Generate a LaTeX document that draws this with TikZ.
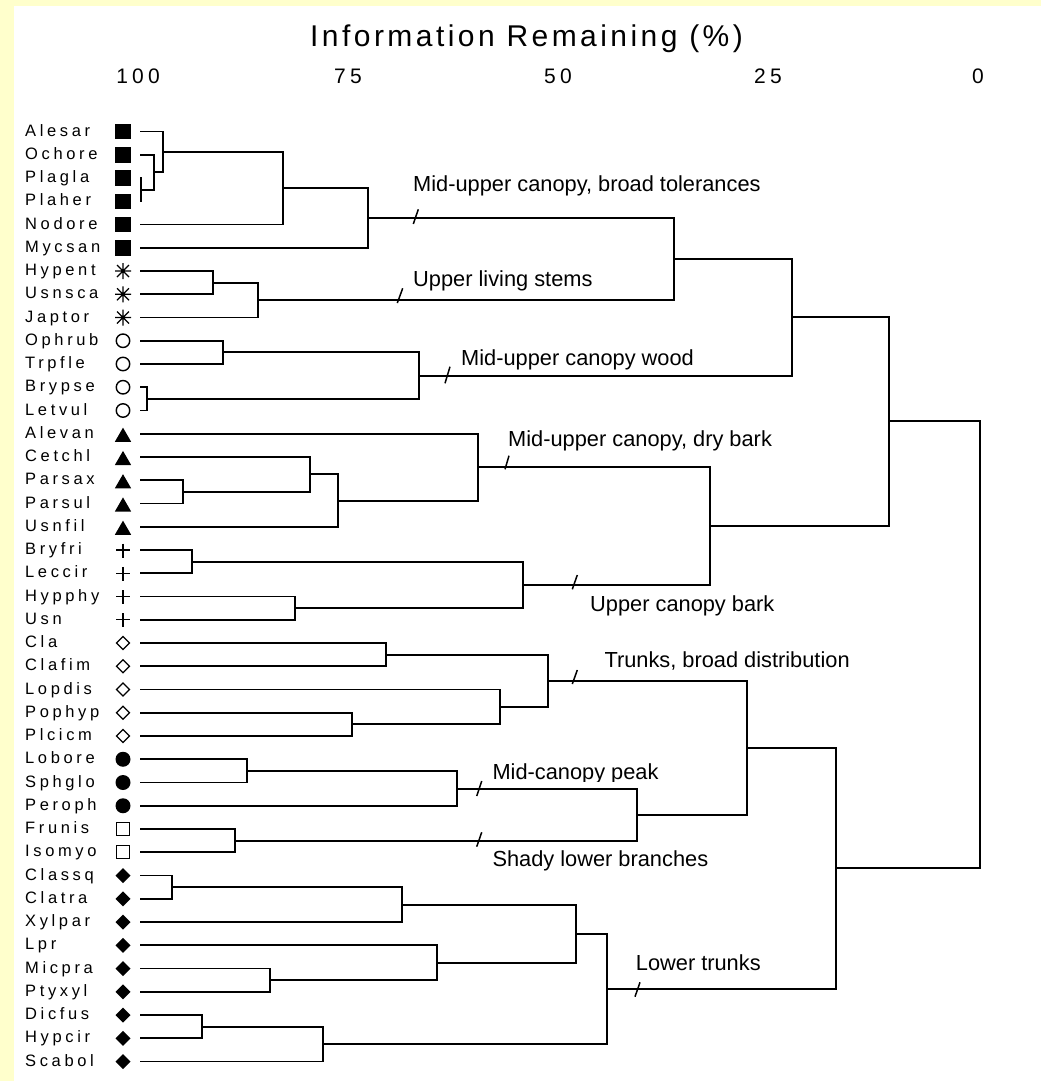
\documentclass[tikz,border=0pt]{standalone}
\usepackage{fontspec}
\setmainfont{Liberation Sans}
\newfontfamily\leaffont[LetterSpace=22]{Liberation Sans}
\newfontfamily\titlefont[LetterSpace=11.5]{Liberation Sans}
\newfontfamily\numfont[LetterSpace=20]{Liberation Sans}
\usetikzlibrary{shapes.geometric}
\definecolor{bgyellow}{RGB}{255,255,204}
\begin{document}
\begin{tikzpicture}[x=1pt,y=-1pt,
  tree/.style={line width=1.9pt, line join=miter},
  slash/.style={line width=1.5pt},
  note/.style={anchor=base west, inner sep=0pt, font=\fontsize{21.8}{26}\selectfont},
  leaflab/.style={anchor=base west, inner sep=0pt, font=\leaffont\fontsize{16.5}{20}\selectfont},
  numlab/.style={anchor=base, inner sep=0pt, font=\numfont\fontsize{21}{25}\selectfont},
  mkbase/.style={inner sep=0pt, outer sep=0pt},
  sqf/.style={mkbase, rectangle, fill=black, minimum size=15.5pt},
  sqo/.style={mkbase, rectangle, draw=black, line width=1.4pt, minimum size=13pt},
  circo/.style={mkbase, circle, draw=black, line width=1.4pt, minimum size=13.5pt},
  circf/.style={mkbase, circle, fill=black, minimum size=15pt},
  trif/.style={mkbase, regular polygon, regular polygon sides=3, fill=black, minimum size=19pt, yshift=-3.4pt},
  diao/.style={mkbase, diamond, draw=black, line width=1.3pt, minimum width=13pt, minimum height=13pt},
  diaf/.style={mkbase, diamond, fill=black, minimum width=15pt, minimum height=15pt},
  plusm/.style={mkbase, minimum size=16pt, path picture={
    \draw[line width=1.4pt]
      ([xshift=-7pt]path picture bounding box.center) -- ([xshift=7pt]path picture bounding box.center)
      ([yshift=6.5pt]path picture bounding box.center) -- ([yshift=-7.5pt]path picture bounding box.center);}},
  astm/.style={mkbase, minimum size=18pt, path picture={
    \draw[line width=1.4pt]
      ([xshift=-8pt]path picture bounding box.center) -- ([xshift=8pt]path picture bounding box.center)
      ([yshift=8pt]path picture bounding box.center) -- ([yshift=-8pt]path picture bounding box.center)
      ([shift={(-6pt,6pt)}]path picture bounding box.center) -- ([shift={(6pt,-6pt)}]path picture bounding box.center)
      ([shift={(-6pt,-6pt)}]path picture bounding box.center) -- ([shift={(6pt,6pt)}]path picture bounding box.center);}}
]
\useasboundingbox (0,0) rectangle (1041,1081);
\fill[bgyellow] (0,0) rectangle (1041,1081);
\fill[white] (14,6) rectangle (1041,1081);

% title and axis
\node[anchor=base west, inner sep=0pt, font=\titlefont\fontsize{30}{36}\selectfont] (title) at (310,46.7) {Information Remaining (\%)};
\node[numlab] (n100) at (138,83.3) {100};
\node[numlab] (n75) at (348,83.3) {75};
\node[numlab] (n50) at (558,83.3) {50};
\node[numlab] (n25) at (768,83.3) {25};
\node[numlab] (n0) at (978,83.3) {0};

% leaves
\foreach \nm/\mk [count=\i from 0] in {Alesar/sqf, Ochore/sqf, Plagla/sqf, Plaher/sqf, Nodore/sqf, Mycsan/sqf,
  Hypent/astm, Usnsca/astm, Japtor/astm, Ophrub/circo, Trpfle/circo, Brypse/circo, Letvul/circo,
  Alevan/trif, Cetchl/trif, Parsax/trif, Parsul/trif, Usnfil/trif, Bryfri/plusm, Leccir/plusm, Hypphy/plusm, Usn/plusm,
  Cla/diao, Clafim/diao, Lopdis/diao, Pophyp/diao, Plcicm/diao, Lobore/circf, Sphglo/circf, Peroph/circf,
  Frunis/sqo, Isomyo/sqo, Classq/diaf, Clatra/diaf, Xylpar/diaf, Lpr/diaf, Micpra/diaf, Ptyxyl/diaf,
  Dicfus/diaf, Hypcir/diaf, Scabol/diaf}{
  \pgfmathsetmacro{\yy}{131.5+23.25*\i}
  \node[leaflab] (lab\i) at (25,\yy+4.5) {\nm};
  \node[\mk] (mk\i) at (123,\yy) {};
  \coordinate (s\i) at (140,\yy);
}

% merges
\foreach \a/\b/\m/\x/\y in {s2/s3/mPP/141/189.6, s1/mPP/mOP/154/172, s0/mOP/mAOP/163/152,
  mAOP/s4/mN/283/188, mN/s5/mG1/368/218, s6/s7/mHU/213/282.6, mHU/s8/mG2/258/300,
  mG1/mG2/mG12/674/259, s9/s10/mOT/223/352.4, s11/s12/mBL/147/398.9, mOT/mBL/mG3/419/375.6,
  mG12/mG3/mG123/792/317.3, s15/s16/mPS/183/491.9, s14/mPS/mCP/310/474.4, mCP/s17/mCPU/338/500.6,
  s13/mCPU/mG4/478/467.2, s18/s19/mBrL/192/561.6, s20/s21/mHyU/295/608.1, mBrL/mHyU/mG5/523/584.9,
  mG4/mG5/mG45/710/526, mG123/mG45/mUp/889/421, s22/s23/mCC/386/654.6, s25/s26/mPoPl/352/724.4,
  s24/mPoPl/mLPP/500/707, mCC/mLPP/mG6/548/680.8, s27/s28/mLS/247/770.9, mLS/s29/mG7/457/789.3,
  s30/s31/mG8/235/840.6, mG7/mG8/mG78/637/815, mG6/mG78/mG678/747/747.9, s32/s33/mCl/172/887.1,
  mCl/s34/mClX/402/904.6, s36/s37/mMP/270/980.1, s35/mMP/mLMP/437/962.7, mClX/mLMP/mCXL/576/933.6,
  s38/s39/mDH/202/1026.6, mDH/s40/mDHS/323/1044, mCXL/mDHS/mG9/607/988.8, mG678/mG9/mLow/836/868.4,
  mUp/mLow/root/980/644.7}{
  \coordinate (\m) at (\x,\y);
  \draw[tree] (\a) -| (\m) |- (\b);
}

% slashes
\draw[slash] (413.3,224) -- (418.3,209.3);
\draw[slash] (397.3,303) -- (402.7,288.3);
\draw[slash] (445,383.3) -- (450,366.7);
\draw[slash] (505,469.3) -- (509,455.7);
\draw[slash] (572.3,589.3) -- (577.3,575);
\draw[slash] (572.3,684) -- (577.3,670);
\draw[slash] (476.7,796) -- (481.7,781);
\draw[slash] (476.7,846.7) -- (481.7,832.3);
\draw[slash] (635,996.7) -- (640,982.3);

% group notes
\node[note] (t1) at (413,191) {Mid-upper canopy, broad tolerances};
\node[note] (t2) at (413,286.7) {Upper living stems};
\node[note] (t3) at (461,365.5) {Mid-upper canopy wood};
\node[note] (t4) at (508,446) {Mid-upper canopy, dry bark};
\node[note] (t5) at (590,611.7) {Upper canopy bark};
\node[note] (t6) at (604.3,667.7) {Trunks, broad distribution};
\begin{scope}
  \clip (485,750) rectangle (720,781.5);
  \node[note] (t7) at (492.3,779.3) {Mid-canopy peak};
\end{scope}
\node[note] (t8) at (492.3,866.7) {Shady lower branches};
\node[note] (t9) at (635.7,970.7) {Lower trunks};
\end{tikzpicture}
\end{document}
